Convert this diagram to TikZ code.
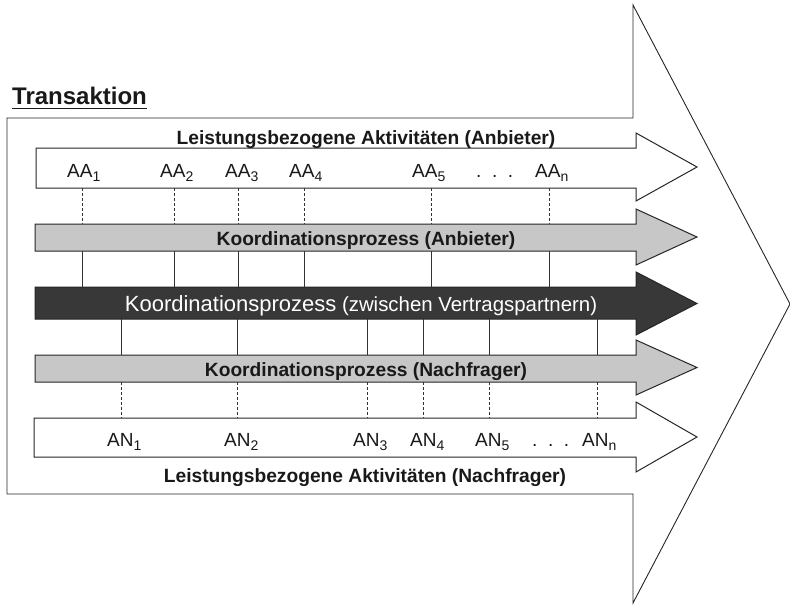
\documentclass[tikz,border=0pt]{standalone}
\usepackage{fontspec}
\setmainfont{Liberation Sans}
\newcommand{\flowarrow}[6]{% #1 style, #2 left, #3 top, #4 bottom, #5 head top, #6 head bottom
  \path[#1] (#2,#3) -- (636,#3) -- (636,#5) -- (697,{(#5+#6)/2}) -- (636,#6) -- (636,#4) -- (#2,#4) -- cycle;}
\newcommand{\subx}[1]{\raisebox{-4pt}{\fontsize{14}{14}\selectfont #1}}
\begin{document}
\begin{tikzpicture}[x=1pt,y=-1pt,
  outline/.style={draw=black!85, line width=1pt, line join=miter},
  whitebar/.style={outline, fill=white},
  lightbar/.style={outline, fill=black!22},
  darkbar/.style={outline, fill=black!78},
  bigarrow/.style={draw=black!85, line width=0.9pt, fill=white, line join=miter},
  link/.style={draw=black!80, line width=0.75pt},
  dlink/.style={link, dash pattern=on 3pt off 2pt},
  boldlbl/.style={font=\fontsize{19.2}{21}\selectfont\bfseries, text=black!90, inner sep=0pt, anchor=base},
  actlbl/.style={font=\fontsize{19}{20}\selectfont, text=black!90, inner sep=0pt, anchor=base west}]
\useasboundingbox (0,0) rectangle (790,605);
\fill[white] (0,0) rectangle (790,605);

% big transaction arrow
\path[bigarrow] (7,118) -- (633,118) -- (633,5) -- (790,304) -- (633,603) -- (633,494) -- (7,494) -- cycle;

% inner process arrows
\flowarrow{whitebar}{36}{148}{188}{133}{201}
\flowarrow{lightbar}{35}{224}{251}{209}{265}
\flowarrow{darkbar}{35}{287}{319}{272}{335}
\flowarrow{lightbar}{35}{355}{382}{340}{395}
\flowarrow{whitebar}{34}{418}{457}{402}{472}

% bar edge coordinates
\coordinate (r1b) at (0,188);
\coordinate (r2t) at (0,224);
\coordinate (r2b) at (0,251);
\coordinate (r3t) at (0,287);
\coordinate (r3b) at (0,319);
\coordinate (r4t) at (0,355);
\coordinate (r4b) at (0,382);
\coordinate (r5t) at (0,418);

% connector columns
\foreach \n/\x in {1/82,2/174,3/238,4/304,5/431,6/549} {
  \coordinate (u\n) at (\x,0);
  \draw[dlink] (u\n |- r1b) -- (u\n |- r2t);
  \draw[link] (u\n |- r2b) -- (u\n |- r3t);
}
\foreach \n/\x in {1/121,2/237,3/367,4/423,5/489,6/597} {
  \coordinate (l\n) at (\x,0);
  \draw[link] (l\n |- r3b) -- (l\n |- r4t);
  \draw[dlink] (l\n |- r4b) -- (l\n |- r5t);
}

% title
\node[anchor=base west, inner sep=0pt, font=\fontsize{24}{26}\selectfont\bfseries, text=black!90] (ttl) at (12,104) {Transaktion};
\draw[line width=1.8pt, black!90] ([yshift=-4pt]ttl.south west) -- ([yshift=-4pt]ttl.south east);

% labels
\node[boldlbl] (lba) at (366,144) {Leistungsbezogene Aktivitäten (Anbieter)};
\node[boldlbl] (kpa) at (366,245) {Koordinationsprozess (Anbieter)};
\node[anchor=base, inner sep=0pt, text=white] (kpv) at (361,311)
  {{\fontsize{22}{23}\selectfont Koordinationsprozess}\ \ {\fontsize{20.4}{23}\selectfont (zwischen Vertragspartnern)}};
\node[boldlbl] (kpn) at (366,376) {Koordinationsprozess (Nachfrager)};
\node[boldlbl] (lbn) at (365,482) {Leistungsbezogene Aktivitäten (Nachfrager)};

% provider activities
\node[actlbl] (aa1) at (67,177) {AA\subx{1}};
\node[actlbl] (aa2) at (160,177) {AA\subx{2}};
\node[actlbl] (aa3) at (225,177) {AA\subx{3}};
\node[actlbl] (aa4) at (289,177) {AA\subx{4}};
\node[actlbl] (aa5) at (412,177) {AA\subx{5}};
\node[actlbl] (aad) at (476,177) {.\ \ .\ \ .};
\node[actlbl] (aan) at (535,177) {AA\subx{n}};

% customer activities
\node[actlbl] (an1) at (107,446) {AN\subx{1}};
\node[actlbl] (an2) at (224,446) {AN\subx{2}};
\node[actlbl] (an3) at (353,446) {AN\subx{3}};
\node[actlbl] (an4) at (410,446) {AN\subx{4}};
\node[actlbl] (an5) at (475,446) {AN\subx{5}};
\node[actlbl] (and) at (532,446) {.\ \ .\ \ .};
\node[actlbl] (ann) at (582,446) {AN\subx{n}};
\end{tikzpicture}
\end{document}
